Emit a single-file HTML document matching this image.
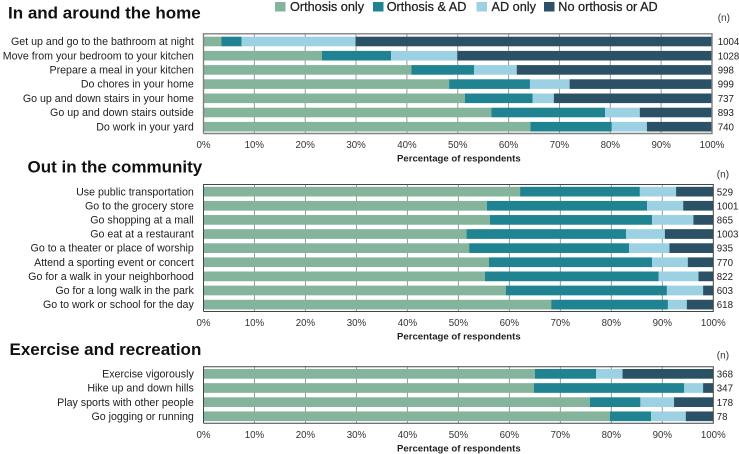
<!DOCTYPE html>
<html>
<head>
<meta charset="utf-8">
<style>
html,body{margin:0;padding:0;background:#fff;width:739px;height:454px;overflow:hidden}
svg{display:block;font-family:"Liberation Sans",Arial,sans-serif}
</style>
</head>
<body>
<svg id="chart" width="739" height="454" viewBox="0 0 739 454" xmlns="http://www.w3.org/2000/svg">
  <g font-size="12.7" font-weight="400" fill="#222" stroke-width="0.25" stroke="#222">
    <rect x="275" y="2" width="10.500" height="9.500" fill="#84b49c" stroke="none"/>
    <text x="290" y="10.800">Orthosis only</text>
    <rect x="373" y="2" width="10.500" height="9.500" fill="#1f8392" stroke="none"/>
    <text x="386.700" y="10.800">Orthosis &amp; AD</text>
    <rect x="476.500" y="2" width="10.500" height="9.500" fill="#9bd1e3" stroke="none"/>
    <text x="491.500" y="10.800">AD only</text>
    <rect x="544" y="2" width="10.500" height="9.500" fill="#2b5166" stroke="none"/>
    <text x="558.300" y="10.800">No orthosis or AD</text>
  </g>
</svg>
<script>
var tickLabels = ['0%','10%','20%','30%','40%','50%','60%','70%','80%','90%','100%'];
var seriesColors = ['#84b49c','#1f8392','#9bd1e3','#2b5166'];
var seriesNames = ['orthosis-only','orthosis-and-ad','ad-only','no-orthosis-or-ad'];

var homeCategories = ['Get up and go to the bathroom at night','Move from your bedroom to your kitchen','Prepare a meal in your kitchen','Do chores in your home','Go up and down stairs in your home','Go up and down stairs outside','Do work in your yard'];
var homeN = ['1004','1028','998','999','737','893','740'];
var homeOrthosisOnly = [3.5,23.3,40.9,48.3,51.4,56.6,64.3];
var homeOrthosisAD = [4.0,13.6,12.3,15.9,13.3,22.4,16.0];
var homeADOnly = [22.4,13.0,8.4,7.8,4.2,6.8,6.9];
var homeNeither = [70.1,50.1,38.4,28.0,31.1,14.2,12.8];

var communityCategories = ['Use public transportation','Go to the grocery store','Go shopping at a mall','Go eat at a restaurant','Go to a theater or place of worship','Attend a sporting event or concert','Go for a walk in your neighborhood','Go for a long walk in the park','Go to work or school for the day'];
var communityN = ['529','1001','865','1003','935','770','822','603','618'];
var communityOrthosisOnly = [62.1,55.6,56.2,51.6,52.1,56.0,55.2,59.3,68.2];
var communityOrthosisAD = [23.5,31.4,31.8,31.3,31.4,32.0,34.1,31.6,22.9];
var communityADOnly = [7.1,7.1,8.1,7.6,7.9,7.0,7.8,7.1,3.7];
var communityNeither = [7.3,5.9,3.9,9.5,8.6,5.0,2.9,2.0,5.2];

var exerciseCategories = ['Exercise vigorously','Hike up and down hills','Play sports with other people','Go jogging or running'];
var exerciseN = ['368','347','178','78'];
var exerciseOrthosisOnly = [65.0,64.8,75.8,79.7];
var exerciseOrthosisAD = [12.0,29.5,9.9,8.1];
var exerciseADOnly = [5.2,3.7,6.6,6.8];
var exerciseNeither = [17.8,2.0,7.7,5.4];

var svg = document.getElementById('chart');
var NS = 'http://www.w3.org/2000/svg';

function make(tag, attrs, parent, content) {
  var el = document.createElementNS(NS, tag);
  for (var k in attrs) { el.setAttribute(k, attrs[k]); }
  if (content !== undefined) { el.textContent = content; }
  parent.appendChild(el);
  return el;
}

function slug(s) {
  return s.toLowerCase().replace(/[^a-z0-9]+/g, '-');
}

function drawPanel(cfg) {
  var group = make('g', {}, svg);
  
  

  var x = function (v) { return cfg.left + (cfg.right - cfg.left) * v / 100; };
  var y = function (i) { return cfg.barTop + cfg.pitch * i; };

  var title = make('text', {x: cfg.titleX, y: cfg.titleY, 'font-size': 17, 'font-weight': 700, fill: '#111'}, group, cfg.title);
  
  

  tickLabels.forEach(function (label, i) {
    var v = i * 10;
    if (i > 0 && i < 10) {
      var grid = make('line', {x1: x(v), x2: x(v), y1: cfg.top, y2: cfg.bottom, stroke: '#9a9a9a', 'stroke-width': 1}, group);
      
      
    }
    var tick = make('text', {x: x(v), y: cfg.bottom + 14.5, 'font-size': 9.7, 'text-anchor': 'middle', fill: '#333'}, group, label);
    
    
  });

  cfg.categories.forEach(function (cat, i) {
    var cum = 0;
    cfg.series.forEach(function (values, s) {
      var seg = make('rect', {x: x(cum), y: y(i), width: x(cum + values[i]) - x(cum), height: cfg.barHeight, fill: seriesColors[s]}, group);
      
      
      cum += values[i];
    });
    var lab = make('text', {x: cfg.left - 9.7, y: y(i) + cfg.barHeight / 2 + 3.6, 'font-size': 10.65, 'text-anchor': 'end', fill: '#222'}, group, cat);
    
    
    var nLab = make('text', {x: cfg.nX, y: y(i) + cfg.barHeight / 2 + 3.6, 'font-size': 9.7, fill: '#222'}, group, cfg.n[i]);
    
    
  });

  var frame = make('path', {d: 'M' + cfg.left + ' ' + cfg.bottom + 'V' + cfg.top + 'H' + cfg.right + 'V' + cfg.bottom + 'H' + cfg.left, fill: 'none', stroke: cfg.frame, 'stroke-width': cfg.frameWidth}, group);
  
  

  var nHead = make('text', {x: cfg.nX, y: cfg.nY, 'font-size': 10, fill: '#333'}, group, '(n)');
  
  

  var axis = make('text', {x: 397, y: cfg.bottom + 28, 'font-size': 9.6, 'font-weight': 700, fill: '#222'}, group, 'Percentage of respondents');
  
  
}

drawPanel({id:'home', title:'In and around the home', titleX:8, titleY:18.500, left:203.5, right:712, top:33.8, bottom:133.5, barTop:36.7, pitch:14.2, barHeight:9.6, frame:'#808080', frameWidth:1.4, nY:21, nX:717.7,
  categories:homeCategories, n:homeN, series:[homeOrthosisOnly,homeOrthosisAD,homeADOnly,homeNeither]});
drawPanel({id:'community', title:'Out in the community', titleX:27.5, titleY:172.500, left:203.5, right:713.3, top:184.5, bottom:311.5, barTop:186.8, pitch:14.12, barHeight:9.7, frame:'#444', frameWidth:1, nY:177.5, nX:716.8,
  categories:communityCategories, n:communityN, series:[communityOrthosisOnly,communityOrthosisAD,communityADOnly,communityNeither]});
drawPanel({id:'exercise', title:'Exercise and recreation', titleX:9.5, titleY:355, left:203.5, right:713.3, top:366.8, bottom:423.3, barTop:369, pitch:14.15, barHeight:9.7, frame:'#444', frameWidth:1, nY:358.5, nX:716.8,
  categories:exerciseCategories, n:exerciseN, series:[exerciseOrthosisOnly,exerciseOrthosisAD,exerciseADOnly,exerciseNeither]});
</script>
</body>
</html>
